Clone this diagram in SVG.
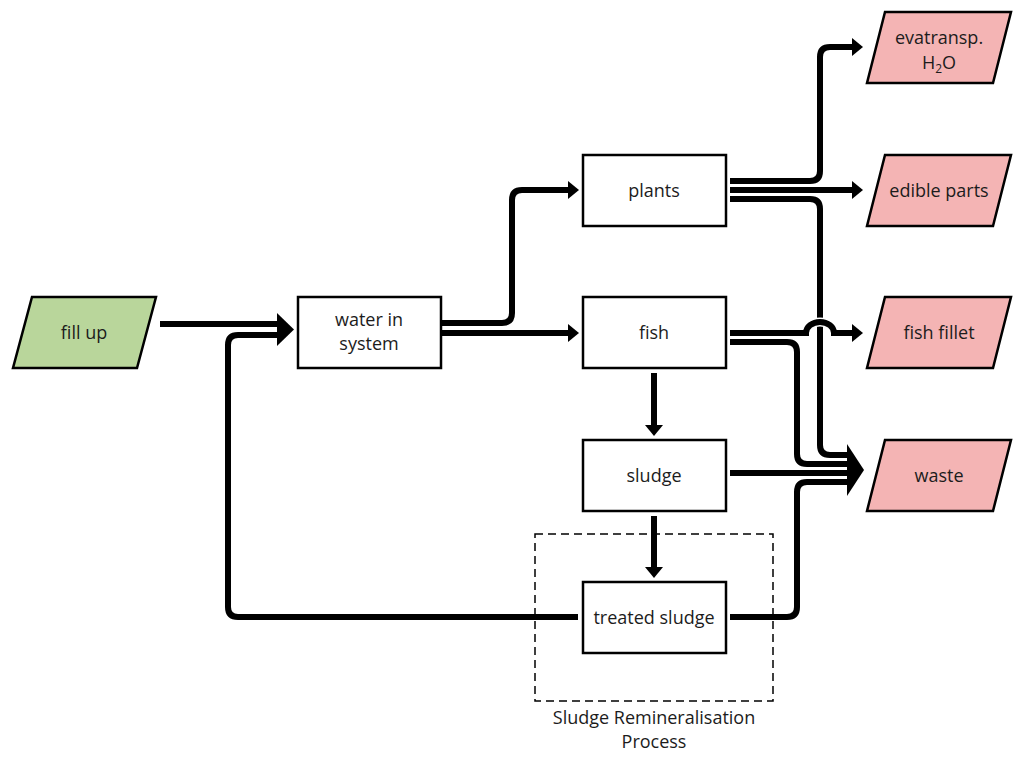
<svg xmlns="http://www.w3.org/2000/svg" xmlns:xlink="http://www.w3.org/1999/xlink" width="1024" height="762" viewBox="0 0 1024 762">
<style>
  .box{fill:#ffffff;stroke:#000;stroke-width:2.5}
  .in{fill:#b9d69b;stroke:#000;stroke-width:2.5}
  .out{fill:#f4b4b4;stroke:#000;stroke-width:2.5}
  .lbl{font-family:"Open Sans","Liberation Sans",sans-serif;font-size:18px;fill:#1c1c1c;text-anchor:middle}
  .case{fill:none;stroke:#fff;stroke-width:9}
  .ln{fill:none;stroke:#000;stroke-width:6}
  .head{fill:#000}
  .dash{fill:none;stroke:#000;stroke-width:1.5;stroke-dasharray:8 5}
</style>
<defs>
  <path id="p1" d="M160,324 H281"/>
  <path id="p2" d="M578,617 H238 Q228,617 228,607 V345 Q228,335 238,335 H281"/>
  <path id="p3" d="M441,323 H502 Q512,323 512,313 V200 Q512,190 522,190 H570"/>
  <path id="p4" d="M441,333 H570"/>
  <path id="p5" d="M730,181 H810 Q820,181 820,171 V57 Q820,47 830,47 H855"/>
  <path id="p6" d="M730,190 H855"/>
  <path id="p7" d="M730,199 H810 Q820,199 820,209 V445 Q820,455 830,455 H850"/>
  <path id="p8" d="M730,333 H806 A14,11 0 0 1 834,333 H854"/>
  <path id="p9" d="M730,342 H787 Q797,342 797,352 V454 Q797,464 807,464 H850"/>
  <path id="p10" d="M730,473 H850"/>
  <path id="p11" d="M730,617 H787 Q797,617 797,607 V492 Q797,482 807,482 H850"/>
  <path id="p12" d="M654,373 V427"/>
  <path id="p13" d="M654,516 V569"/>
</defs>

<g id="connectors">
  <use xlink:href="#p1" class="case"/><use xlink:href="#p1" class="ln"/>
  <use xlink:href="#p2" class="case"/><use xlink:href="#p2" class="ln"/>
  <polygon class="head" points="277,313 294,329.5 277,346"/>
  <use xlink:href="#p3" class="case"/><use xlink:href="#p3" class="ln"/>
  <use xlink:href="#p4" class="case"/><use xlink:href="#p4" class="ln"/>
  <polygon class="head" points="568,181 579,190 568,199"/>
  <polygon class="head" points="568,324 579,333 568,342"/>
  <use xlink:href="#p5" class="case"/><use xlink:href="#p5" class="ln"/>
  <use xlink:href="#p6" class="case"/><use xlink:href="#p6" class="ln"/>
  <polygon class="head" points="852,38 863,47 852,56"/>
  <polygon class="head" points="852,181 863,190 852,199"/>
  <use xlink:href="#p7" class="case"/><use xlink:href="#p7" class="ln"/>
  <use xlink:href="#p8" class="case"/><use xlink:href="#p8" class="ln"/>
  <polygon class="head" points="852,324 863,333 852,342"/>
  <use xlink:href="#p9" class="case"/><use xlink:href="#p9" class="ln"/>
  <use xlink:href="#p10" class="case"/><use xlink:href="#p10" class="ln"/>
  <use xlink:href="#p11" class="case"/><use xlink:href="#p11" class="ln"/>
  <polygon class="head" points="847,444 864,470 847,496"/>
  <use xlink:href="#p12" class="ln"/>
  <polygon class="head" points="645,425 654,436 663,425"/>
  <use xlink:href="#p13" class="ln"/>
  <polygon class="head" points="645,567 654,578 663,567"/>
</g>

<g id="sludge-process">
  <rect class="dash" x="535" y="534" width="238" height="167"/>
  <text class="lbl" x="654" y="724">Sludge Remineralisation</text>
  <text class="lbl" x="654" y="748">Process</text>
</g>

<g id="fill-up">
  <polygon class="in" points="32,297 156,297 137,368 13,368"/>
  <text class="lbl" x="84" y="339">fill up</text>
</g>
<g id="water-in-system">
  <rect class="box" x="298" y="297" width="143" height="71"/>
  <text class="lbl" x="369" y="326">water in</text>
  <text class="lbl" x="369" y="350">system</text>
</g>
<g id="plants">
  <rect class="box" x="583" y="155" width="143" height="71"/>
  <text class="lbl" x="654" y="197">plants</text>
</g>
<g id="fish">
  <rect class="box" x="583" y="297" width="143" height="71"/>
  <text class="lbl" x="654" y="339">fish</text>
</g>
<g id="sludge">
  <rect class="box" x="583" y="440" width="143" height="71"/>
  <text class="lbl" x="654" y="482">sludge</text>
</g>
<g id="treated-sludge">
  <rect class="box" x="583" y="582" width="143" height="71"/>
  <text class="lbl" x="654" y="624">treated sludge</text>
</g>
<g id="evatransp">
  <polygon class="out" points="885,12 1011,12 993,83 867,83"/>
  <text class="lbl" x="939" y="44">evatransp.</text>
  <text class="lbl" x="939" y="69">H<tspan font-size="12" dy="4">2</tspan><tspan dy="-4">O</tspan></text>
</g>
<g id="edible-parts">
  <polygon class="out" points="885,155 1011,155 993,226 867,226"/>
  <text class="lbl" x="939" y="197">edible parts</text>
</g>
<g id="fish-fillet">
  <polygon class="out" points="885,297 1011,297 993,368 867,368"/>
  <text class="lbl" x="939" y="339">fish fillet</text>
</g>
<g id="waste">
  <polygon class="out" points="885,440 1011,440 993,511 867,511"/>
  <text class="lbl" x="939" y="482">waste</text>
</g>
</svg>
